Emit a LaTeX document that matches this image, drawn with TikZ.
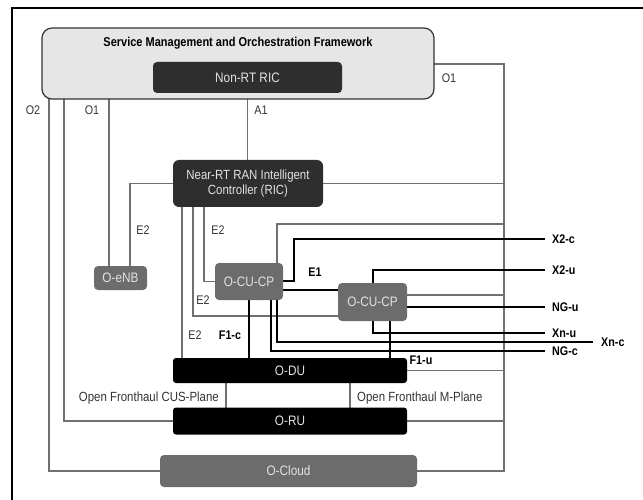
\documentclass[tikz,border=0pt]{standalone}
\usepackage{fontspec}
\setmainfont{Liberation Sans}[FakeStretch=0.86]
\usetikzlibrary{backgrounds}
\definecolor{smofill}{HTML}{E6E6E6}
\definecolor{darkbox}{HTML}{2E2E2E}
\definecolor{midbox}{HTML}{6C6C6C}
\definecolor{wire}{HTML}{707070}
\definecolor{boxtext}{HTML}{E2E2E2}
\tikzset{
  boxbase/.style={inner sep=0pt, text=boxtext, font=\fontsize{13.7}{15.5}\selectfont},
  smobox/.style={boxbase, draw=black!80, line width=1.2pt, fill=smofill, rounded corners=10pt},
  darkrbox/.style={boxbase, fill=darkbox, rounded corners=4pt},
  blackbox/.style={boxbase, fill=black, rounded corners=3pt},
  greybox/.style={boxbase, fill=midbox, rounded corners=4pt},
  conn/.style={draw=wire, line width=1.1pt},
  link/.style={draw=black, line width=1.5pt},
  lbl/.style={inner sep=0pt, text=black!80, font=\fontsize{12.5}{14}\selectfont},
  planelbl/.style={lbl, font=\fontsize{13.3}{15}\selectfont},
  blbl/.style={inner sep=0pt, text=black, font=\fontsize{12.5}{14}\selectfont\bfseries},
}
\begin{document}
\begin{tikzpicture}[x=1pt, y=-1pt]
\useasboundingbox (0,0) rectangle (643,500);
% outer frame (top and left edges)
\draw[line width=2.2pt] (12,500) -- (12,8) -- (643,8);

% ---- boxes ----
\node[smobox, minimum width=392pt, minimum height=71pt] (smo) at (238,63.5) {};
\node[inner sep=0pt, font=\fontsize{12.8}{14}\selectfont\bfseries] (smotitle) at (238,43) {Service Management and Orchestration Framework};
\node[darkrbox, minimum width=189pt, minimum height=31pt] (nonrt) at (247.5,77.5) {Non-RT RIC};
\node[darkrbox, rounded corners=6pt, minimum width=150pt, minimum height=47pt, align=center, font=\fontsize{13.3}{15.5}\selectfont] (nearrt) at (248,183.5) {Near-RT RAN Intelligent\\Controller (RIC)};
\node[greybox, minimum width=53pt, minimum height=24pt] (oenb) at (120.5,278) {O-eNB};
\node[greybox, minimum width=68pt, minimum height=37pt] (ocu1) at (249,281.5) {O-CU-CP};
\node[greybox, minimum width=69pt, minimum height=38pt] (ocu2) at (372.5,302) {O-CU-CP};
\node[blackbox, minimum width=234pt, minimum height=25pt] (odu) at (290,370.5) {O-DU};
\node[blackbox, minimum width=234pt, minimum height=27pt] (oru) at (290,421) {O-RU};
\node[greybox, minimum width=257pt, minimum height=32pt] (ocloud) at (288.5,471) {O-Cloud};

% ---- routing points ----
\coordinate (xo2) at (49,0);
\coordinate (xo1a) at (64,0);
\coordinate (xo1b) at (109,0);
\coordinate (xe2n) at (130,0);
\coordinate (xe2d) at (182,0);
\coordinate (xe2b) at (193,316);
\coordinate (xe2a) at (204,0);
\coordinate (xcus) at (226,0);
\coordinate (xm) at (350,0);
\coordinate (xf1c) at (249,0);
\coordinate (xngc) at (271,0);
\coordinate (xxnc) at (277,0);
\coordinate (xf1u) at (390,0);
\coordinate (xcu2) at (373,0);
\coordinate (o1r) at (504,64);
\coordinate (o1cu1) at (504,224);
\coordinate (o1cu2) at (504,295);
\coordinate (e1y) at (0,290);
\coordinate (x2cbend) at (294,281);
\coordinate (endX2c) at (545,239);
\coordinate (endX2u) at (545,270);
\coordinate (endNGu) at (545,307);
\coordinate (endXnu) at (545,333);
\coordinate (endXnc) at (593,342);
\coordinate (endNGc) at (545,351);

% ---- connectors ----
\begin{pgfonlayer}{background}
  % management and E2 wiring
  \draw[conn] (smo.center -| xo2) |- (ocloud.west);
  \draw[conn] (smo.center -| xo1a) |- (oru.west);
  \draw[conn] (smo.center -| xo1b) -- (oenb.center -| xo1b);
  \draw[conn] (nonrt.center) -- (nonrt.center |- nearrt.center);
  \draw[conn] (smo.center |- o1r) -- (o1r) |- (ocloud.east);
  \draw[conn] (nearrt.center) -- (nearrt.center -| o1r);
  \draw[conn] (ocu1.center -| xxnc) |- (o1cu1);
  \draw[conn] (ocu2.center |- o1cu2) -- (o1cu2);
  \draw[conn] (odu.center) -- (odu.center -| o1r);
  \draw[conn] (oru.center) -- (oru.center -| o1r);
  \draw[conn] (nearrt.center) -| (oenb.center -| xe2n);
  \draw[conn] (nearrt.center -| xe2a) |- (ocu1.center);
  \draw[conn] (nearrt.center -| xe2b) |- (ocu2.center |- xe2b);
  \draw[conn] (nearrt.center -| xe2d) -- (odu.center -| xe2d);
  \draw[conn] (odu.center -| xcus) -- (oru.center -| xcus);
  \draw[conn] (odu.center -| xm) -- (oru.center -| xm);
  % user and control plane interfaces
  \draw[link] (ocu1.center |- e1y) -- (ocu2.center |- e1y);
  \draw[link] (ocu1.center |- x2cbend) -- (x2cbend) |- (endX2c);
  \draw[link] (ocu2.center -| xcu2) |- (endX2u);
  \draw[link] (ocu2.center |- endNGu) -- (endNGu);
  \draw[link] (ocu2.center -| xcu2) |- (endXnu);
  \draw[link] (ocu1.center -| xxnc) |- (endXnc);
  \draw[link] (ocu1.center -| xngc) |- (endNGc);
  \draw[link] (ocu1.center -| xf1c) -- (odu.center -| xf1c);
  \draw[link] (ocu2.center -| xf1u) -- (odu.center -| xf1u);
\end{pgfonlayer}

% ---- interface labels ----
\node[lbl] (lo2) at (33,110) {O2};
\node[lbl] (lo1a) at (92,110) {O1};
\node[lbl] (la1) at (261,110) {A1};
\node[lbl] (lo1b) at (449,78) {O1};
\node[lbl] (le2n) at (143,230) {E2};
\node[lbl] (le2a) at (218,230) {E2};
\node[lbl] (le2b) at (203,300) {E2};
\node[lbl] (le2d) at (195,335) {E2};
\node[blbl] (lf1c) at (230,335) {F1-c};
\node[blbl] (le1) at (315,272) {E1};
\node[blbl] (lf1u) at (421,360) {F1-u};
\node[blbl, anchor=west] (lx2c) at (552,239) {X2-c};
\node[blbl, anchor=west] (lx2u) at (552,270) {X2-u};
\node[blbl, anchor=west] (lngu) at (552,307) {NG-u};
\node[blbl, anchor=west] (lxnu) at (552,333) {Xn-u};
\node[blbl, anchor=west] (lngc) at (552,351) {NG-c};
\node[blbl, anchor=west] (lxnc) at (601,342) {Xn-c};
\node[planelbl, anchor=east] (lcus) at (219,398) {Open Fronthaul CUS-Plane};
\node[planelbl, anchor=west] (lmp) at (357,398) {Open Fronthaul M-Plane};
\end{tikzpicture}
\end{document}
